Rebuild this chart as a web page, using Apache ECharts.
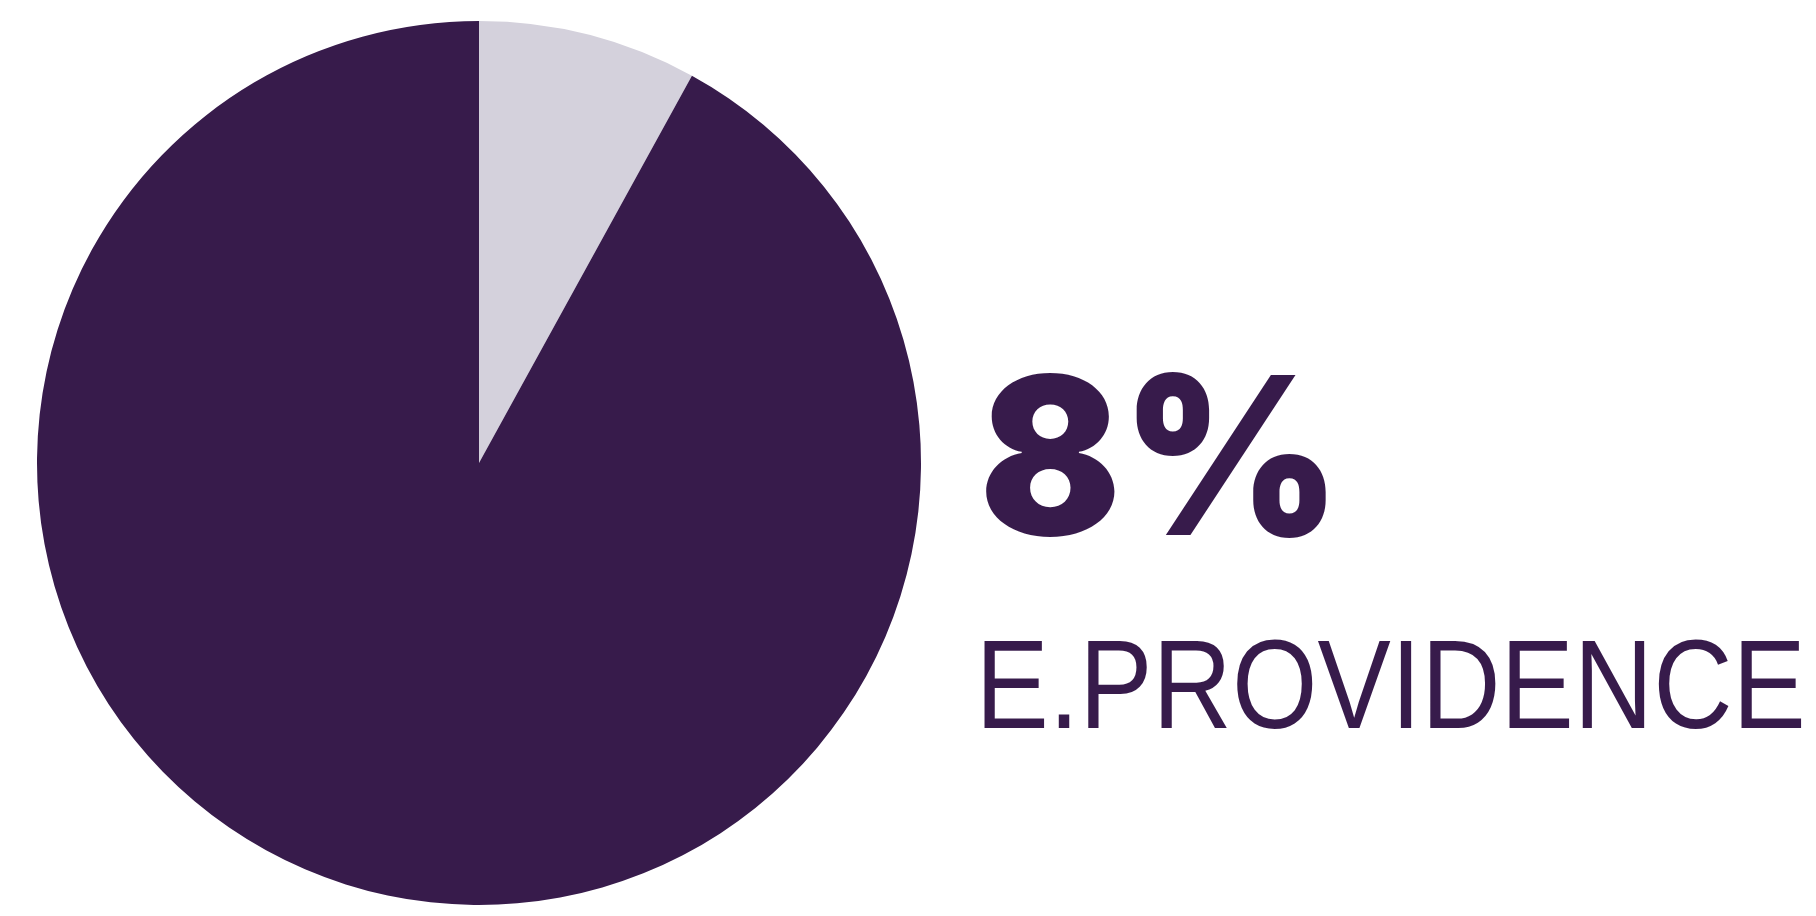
<!DOCTYPE html>
<html>
<head>
<meta charset="utf-8">
<script src="https://cdn.jsdelivr.net/npm/echarts@6/dist/echarts.min.js"></script>
<style>
html,body{margin:0;padding:0;background:#fff;}
#chart{width:1816px;height:916px;}
</style>
</head>
<body>
<div id="chart"></div>
<script>
const categories = ['E.PROVIDENCE', 'Other'];
const shares = [8, 92];
const colors = ['#D4D1DC', '#371B4B'];
const labelText = 'E.PROVIDENCE';

const chart = echarts.init(document.getElementById('chart'), null, {renderer: 'canvas'});
chart.setOption({
  animation: false,
  backgroundColor: '#ffffff',
  series: [{
    type: 'pie',
    center: [479, 463],
    radius: 442,
    startAngle: 90,
    clockwise: true,
    label: {show: false},
    labelLine: {show: false},
    emphasis: {disabled: true},
    itemStyle: {borderWidth: 0},
    data: categories.map((c, i) => ({name: c, value: shares[i], itemStyle: {color: colors[i]}}))
  }],
  graphic: [
    {
      type: 'text',
      x: 979, y: 359,
      scaleX: 0.955,
      style: {
        x: 0, y: 0,
        text: shares[0] + '%',
        font: '900 220px Inter',
        fill: '#371B4B',
        align: 'left',
        verticalAlign: 'top'
      }
    },
    {
      type: 'text',
      x: 975.5, y: 693,
      scaleX: 0.872,
      style: {
        x: 0, y: 0,
        text: labelText,
        font: '400 126px "Liberation Sans"',
        fill: '#371B4B',
        align: 'left',
        verticalAlign: 'middle'
      }
    }
  ]
});
</script>
</body>
</html>
